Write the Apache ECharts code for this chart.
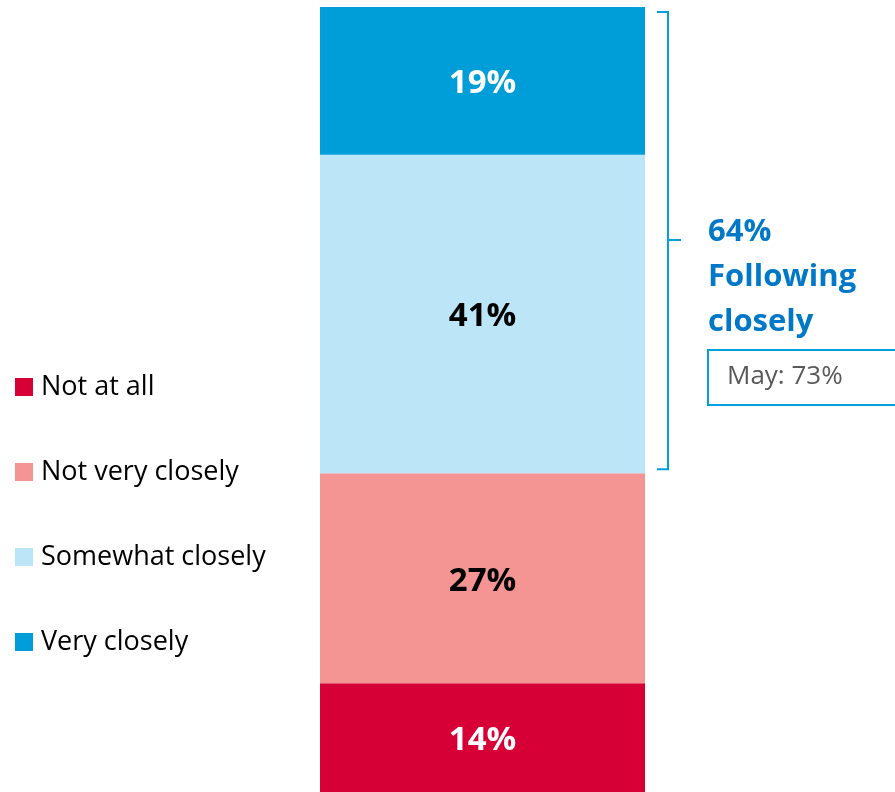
<!DOCTYPE html>
<html lang="en">
<head>
	<meta charset="UTF-8">
	<title>Following closely</title>
	<style>
		html, body { margin: 0; padding: 0; background: #fff; }
	</style>
</head>
<body>
	<div id="main" style="width: 895px;height: 792px"></div>
	<script src="https://cdn.jsdelivr.net/npm/echarts@6/dist/echarts.min.js"></script>
	<script>
		// data
		var categories = ['Total'];
		var seriesNames = ['Not at all', 'Not very closely', 'Somewhat closely', 'Very closely'];
		var seriesValues = [14, 27, 41, 19];
		var seriesColors = ['#D70036', '#F59593', '#BCE5F8', '#009ED8'];
		var labelColors = ['#ffffff', '#000000', '#000000', '#ffffff'];
		var followingTotal = '64%';
		var followingText = 'Following\nclosely';
		var mayText = 'May: 73%';

		var myChart = echarts.init(document.getElementById('main'));

		var series = seriesNames.map(function (name, i) {
			return {
				name: name,
				type: 'bar',
				stack: 'all',
				barWidth: '100%',
				itemStyle: { color: seriesColors[i] },
				label: {
					show: true,
					position: 'inside',
					offset: [0, 3],
					formatter: '{c}%',
					color: labelColors[i],
					fontFamily: 'Open Sans',
					fontWeight: 'bold',
					fontSize: 33
				},
				data: [seriesValues[i]]
			};
		});

		var option = {
			animation: false,
			legend: {
				orient: 'vertical',
				left: 15,
				top: 372,
				padding: 0,
				icon: 'rect',
				itemWidth: 18,
				itemHeight: 18,
				itemGap: 55,
				textStyle: {
					fontFamily: 'Open Sans',
					fontSize: 27,
					lineHeight: 30,
					color: '#000',
					padding: [0, 0, 0, 3]
				},
				data: seriesNames
			},
			grid: {
				left: 320,
				width: 325,
				top: 7,
				bottom: 0
			},
			xAxis: {
				type: 'category',
				data: categories,
				show: false
			},
			yAxis: {
				type: 'value',
				min: 0,
				max: 101,
				show: false
			},
			series: series
		};

		myChart.setOption(option);

		// bracket spanning the two "closely" segments
		var yTop = myChart.convertToPixel({ yAxisIndex: 0 }, 101) + 5;
		var yBot = myChart.convertToPixel({ yAxisIndex: 0 }, seriesValues[0] + seriesValues[1]) - 4;
		var yMid = 240;
		var bx = 668;

		myChart.setOption({
			graphic: [
				{
					type: 'polyline',
					shape: {
						points: [[657, yTop], [bx, yTop], [bx, yBot], [657, yBot]]
					},
					style: { stroke: '#00A0E0', lineWidth: 2, fill: null }
				},
				{
					type: 'line',
					shape: { x1: bx, y1: yMid, x2: 681, y2: yMid },
					style: { stroke: '#00A0E0', lineWidth: 2 }
				},
				{
					type: 'text',
					left: 708,
					top: 210,
					style: {
						text: followingTotal + '\n' + followingText,
						fill: '#0078C8',
						font: 'bold 31px "Open Sans"',
						lineHeight: 45
					}
				},
				{
					type: 'rect',
					shape: { x: 708, y: 350, width: 200, height: 55 },
					style: { stroke: '#00A0E0', lineWidth: 2, fill: '#fff' }
				},
				{
					type: 'text',
					left: 727,
					top: 364,
					style: {
						text: mayText,
						fill: '#595959',
						font: '26px "Open Sans"'
					}
				}
			]
		});
	</script>
</body>
</html>
